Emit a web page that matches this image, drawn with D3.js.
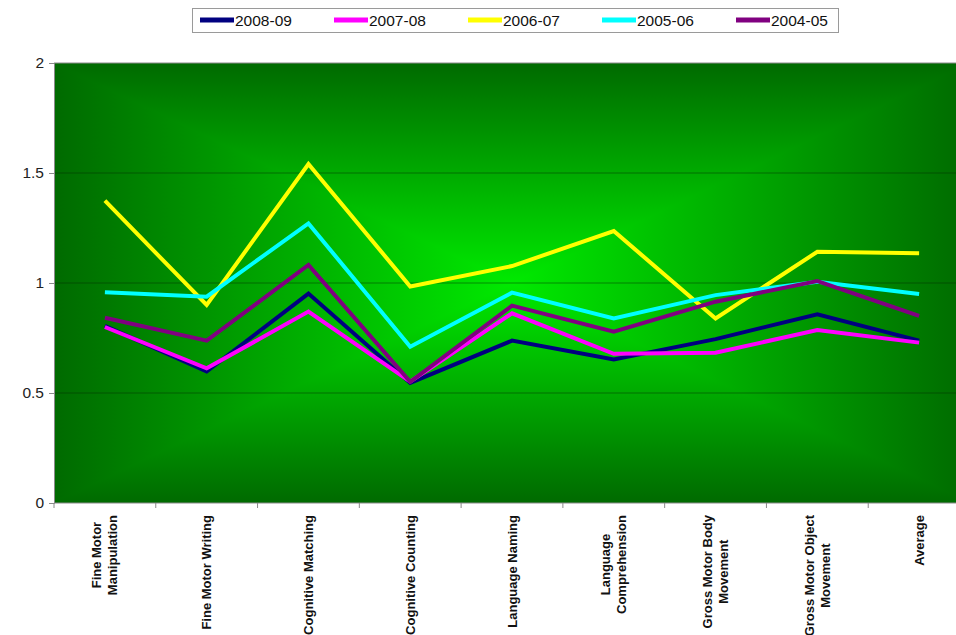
<!DOCTYPE html>
<html>
<head>
<meta charset="utf-8">
<script src="https://cdn.jsdelivr.net/npm/d3@7"></script>
<style>
    body { margin: 0; background: #fff; }
    svg { display: block; font-family: "Liberation Sans", Arial, sans-serif; }
</style>
</head>
<body>
<div id="chart"></div>
<script>

const categories = [
    "Fine Motor|Manipulation", "Fine Motor Writing", "Cognitive Matching", "Cognitive Counting",
    "Language Naming", "Language|Comprehension", "Gross Motor Body|Movement",
    "Gross Motor Object|Movement", "Average"
];
const seriesNames = ["2008-09", "2007-08", "2006-07", "2005-06", "2004-05"];
const values2008 = [0.805, 0.598, 0.952, 0.546, 0.738, 0.652, 0.745, 0.858, 0.738];
const values2007 = [0.800, 0.612, 0.870, 0.552, 0.862, 0.678, 0.683, 0.786, 0.729];
const values2006 = [1.374, 0.900, 1.541, 0.984, 1.077, 1.236, 0.839, 1.142, 1.135];
const values2005 = [0.958, 0.938, 1.271, 0.710, 0.956, 0.839, 0.945, 1.006, 0.950];
const values2004 = [0.842, 0.738, 1.082, 0.551, 0.897, 0.779, 0.915, 1.009, 0.851];
const yTicks = [0, 0.5, 1, 1.5, 2];

const seriesColors = ["#000080", "#ff00ff", "#ffff00", "#00ffff", "#800080"];
const allSeries = [values2008, values2007, values2006, values2005, values2004];

drawChart();


function drawChart() {
    const plot = { left: 54, right: 970, top: 63, bottom: 503 };

    const svg = d3.select("#chart").append("svg")
        .attr("width", 956)
        .attr("height", 635);

    const xScale = d3.scaleBand()
        .domain(categories)
        .range([plot.left, plot.right]);

    const yScale = d3.scaleLinear()
        .domain([0, 2])
        .range([plot.bottom, plot.top]);

    // (Excel style rectangular "from center" gradient: two linear ramps, darker one wins.)
    const defs = svg.append("defs");
    const rampStops = [[0, "#006a00"], [0.5, "#00ea00"], [1, "#006a00"]];
    [["gradH", "0%", "0%", "100%", "0%"], ["gradV", "0%", "0%", "0%", "100%"]].forEach(g => {
        defs.append("linearGradient")
            .attr("id", g[0])
            .attr("x1", g[1]).attr("y1", g[2]).attr("x2", g[3]).attr("y2", g[4])
            .selectAll("stop")
            .data(rampStops)
            .enter()
            .append("stop")
            .attr("offset", d => d[0])
            .attr("stop-color", d => d[1]);
    });

    const background = svg.append("g").style("isolation", "isolate");
    background.append("rect")
        .attr("x", plot.left).attr("y", plot.top)
        .attr("width", plot.right - plot.left).attr("height", plot.bottom - plot.top)
        .attr("fill", "url(#gradH)");
    background.append("rect")
        .attr("x", plot.left).attr("y", plot.top)
        .attr("width", plot.right - plot.left).attr("height", plot.bottom - plot.top)
        .attr("fill", "url(#gradV)")
        .style("mix-blend-mode", "darken");

    // Gridlines
    svg.append("g")
        .selectAll("line")
        .data(yTicks.filter(t => t > 0))
        .enter()
        .append("line")
        .attr("x1", plot.left).attr("x2", plot.right)
        .attr("y1", d => yScale(d)).attr("y2", d => yScale(d))
        .attr("stroke", t => t == 2 ? "#8a8a8a" : "rgba(0,40,0,0.45)")
        .attr("stroke-width", 1);

    // Y axis
    const yAxis = svg.append("g")
        .attr("transform", `translate(${plot.left},0)`)
        .call(d3.axisLeft(yScale).tickValues(yTicks).tickSize(5).tickPadding(5).tickFormat(d3.format("")));
    yAxis.selectAll("path, line").attr("stroke", "#8a8a8a");
    yAxis.selectAll("text")
        .attr("font-size", 15.5)
        .attr("fill", "#222")
        .attr("font-family", "Liberation Sans, Arial, sans-serif");

    // X axis
    const xAxis = svg.append("g")
        .attr("transform", `translate(0,${plot.bottom})`);
    xAxis.append("line")
        .attr("x1", plot.left).attr("x2", plot.right)
        .attr("y1", 0).attr("y2", 0)
        .attr("stroke", "#8a8a8a");
    xAxis.selectAll(".tick")
        .data(categories)
        .enter()
        .append("line")
        .attr("x1", d => xScale(d)).attr("x2", d => xScale(d))
        .attr("y1", 0).attr("y2", 5)
        .attr("stroke", "#8a8a8a");

    const labels = xAxis.selectAll(".cat-label")
        .data(categories)
        .enter()
        .append("text")
        .attr("class", "cat-label")
        .attr("font-size", 13)
        .attr("font-weight", "bold")
        .attr("fill", "#111")
        .attr("text-anchor", "middle");

    labels.each(function(d) {
        const lines = d.split("|");
        const label = d3.select(this);
        const spans = lines.map((line, i) => label.append("tspan").text(line));
        const longest = d3.max(spans, s => s.node().getComputedTextLength());
        const cx = xScale(d) + xScale.bandwidth() / 2;
        const lineGap = 16;
        const firstOffset = -(lines.length - 1) * lineGap / 2;
        label.attr("transform", `translate(${cx + 4.5},${12 + longest / 2}) rotate(-90)`);
        spans.forEach((s, i) => s.attr("x", 0).attr("y", firstOffset + i * lineGap));
    });

    // Lines
    const line = d3.line()
        .x((d, i) => xScale(categories[i]) + xScale.bandwidth() / 2)
        .y(d => yScale(d));

    svg.append("g")
        .selectAll("path")
        .data(allSeries)
        .enter()
        .append("path")
        .attr("d", line)
        .attr("fill", "none")
        .attr("stroke", (d, i) => seriesColors[i])
        .attr("stroke-width", 4)
        .attr("stroke-linejoin", "miter");

    // Legend
    const legend = svg.append("g");
    legend.append("rect")
        .attr("x", 192.5).attr("y", 8.5)
        .attr("width", 646).attr("height", 24)
        .attr("fill", "#fff")
        .attr("stroke", "#9a9a9a");

    const legendItems = legend.selectAll(".legend-item")
        .data(seriesNames)
        .enter()
        .append("g")
        .attr("transform", (d, i) => `translate(${200 + i * 134},20)`);

    legendItems.append("line")
        .attr("x1", 0).attr("x2", 34)
        .attr("y1", 0).attr("y2", 0)
        .attr("stroke", (d, i) => seriesColors[i])
        .attr("stroke-width", 5);

    legendItems.append("text")
        .attr("x", 35)
        .attr("y", 5.5)
        .attr("font-size", 15.5)
        .attr("fill", "#111")
        .text(d => d);
}

</script>
</body>
</html>
